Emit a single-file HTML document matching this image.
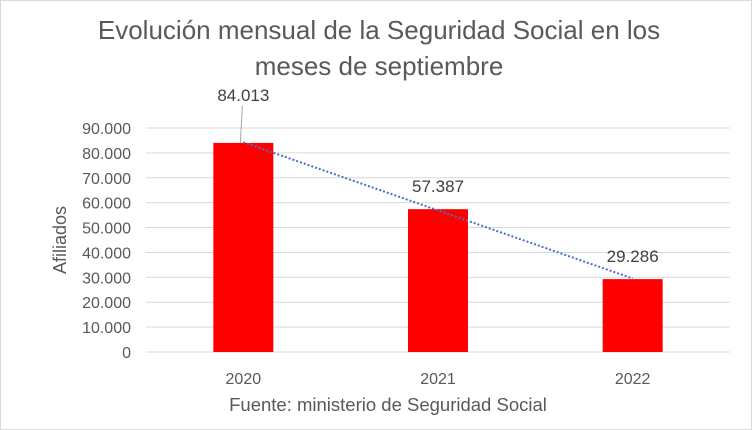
<!DOCTYPE html>
<html><head><meta charset="utf-8"><style>
body{margin:0;background:#fff}
svg{display:block;font-family:"Liberation Sans",Arial,sans-serif}
</style></head><body>
<svg id="chart" width="752" height="430">
<rect x="0.5" y="0.5" width="751" height="429" fill="#fff" stroke="#d9d9d9"/>
<text x="379" y="39" font-size="26" fill="#595959" text-anchor="middle">Evolución mensual de la Seguridad Social en los</text>
<text x="379" y="75" font-size="26" fill="#595959" text-anchor="middle">meses de septiembre</text>
<text transform="translate(66,240) rotate(-90)" font-size="18" fill="#595959" text-anchor="middle">Afiliados</text>
<text x="388" y="411" font-size="18.5" fill="#595959" text-anchor="middle">Fuente: ministerio de Seguridad Social</text>
<g id="grid"></g><g id="bars"></g><g id="labels"></g>
</svg>
<script>
const categories=["2020","2021","2022"];
const values=[84013,57387,29286];
const valueLabels=["84.013","57.387","29.286"];
const yTicks=[0,10000,20000,30000,40000,50000,60000,70000,80000,90000];
const yTickLabels=["0","10.000","20.000","30.000","40.000","50.000","60.000","70.000","80.000","90.000"];
const NS="http://www.w3.org/2000/svg";
const x0=146,x1=730,y0=352,yMax=90000,yTop=128;
const y=v=>y0-(v/yMax)*(y0-yTop);
const bw=(x1-x0)/categories.length;
const xc=i=>x0+bw*(i+0.5);
function mk(t,a,p){const e=document.createElementNS(NS,t);for(const k in a)e.setAttribute(k,a[k]);p.appendChild(e);return e;}
const grid=document.getElementById('grid'),bars=document.getElementById('bars'),labels=document.getElementById('labels');
yTicks.forEach((v,i)=>{
 const l=mk('line',{x1:x0,x2:x1,y1:y(v),y2:y(v),stroke:'#d9d9d9','stroke-width':1},grid);
 
 
 const t=mk('text',{x:x0-15,y:y(v)+6,'font-size':16,fill:'#595959','text-anchor':'end'},grid);
 t.textContent=yTickLabels[i];
 
 
});
categories.forEach((c,i)=>{
 const r=mk('rect',{x:xc(i)-30,y:y(values[i]),width:60,height:y0-y(values[i]),fill:'#ff0000'},bars);
 
 
 const t=mk('text',{x:xc(i),y:384,'font-size':16,fill:'#595959','text-anchor':'middle'},labels);
 t.textContent=c;
 
 
 const off=i===0?43:22;
 const dl=mk('text',{x:xc(i)-(i===0?0:0),y:y(values[i])-off+(i===0?1:5),'font-size':17,fill:'#404040','text-anchor':'middle'},labels);
 dl.textContent=valueLabels[i];
 
 
 if(i===0){const ll=mk('line',{x1:xc(i)-1,y1:y(values[i])-37,x2:xc(i)-3,y2:y(values[i]),stroke:'#a6a6a6'},labels);
 
 }
});
const n=values.length,mx=(n-1)/2,my=values.reduce((a,b)=>a+b)/n;
let num=0,den=0;values.forEach((v,i)=>{num+=(i-mx)*(v-my);den+=(i-mx)**2;});
const s=num/den,b=my-s*mx;
const tl=mk('line',{x1:xc(0),y1:y(b),x2:xc(n-1),y2:y(b+s*(n-1)),stroke:'#4472c4','stroke-width':2,'stroke-dasharray':'2,2'},labels);


</script>
</body></html>
